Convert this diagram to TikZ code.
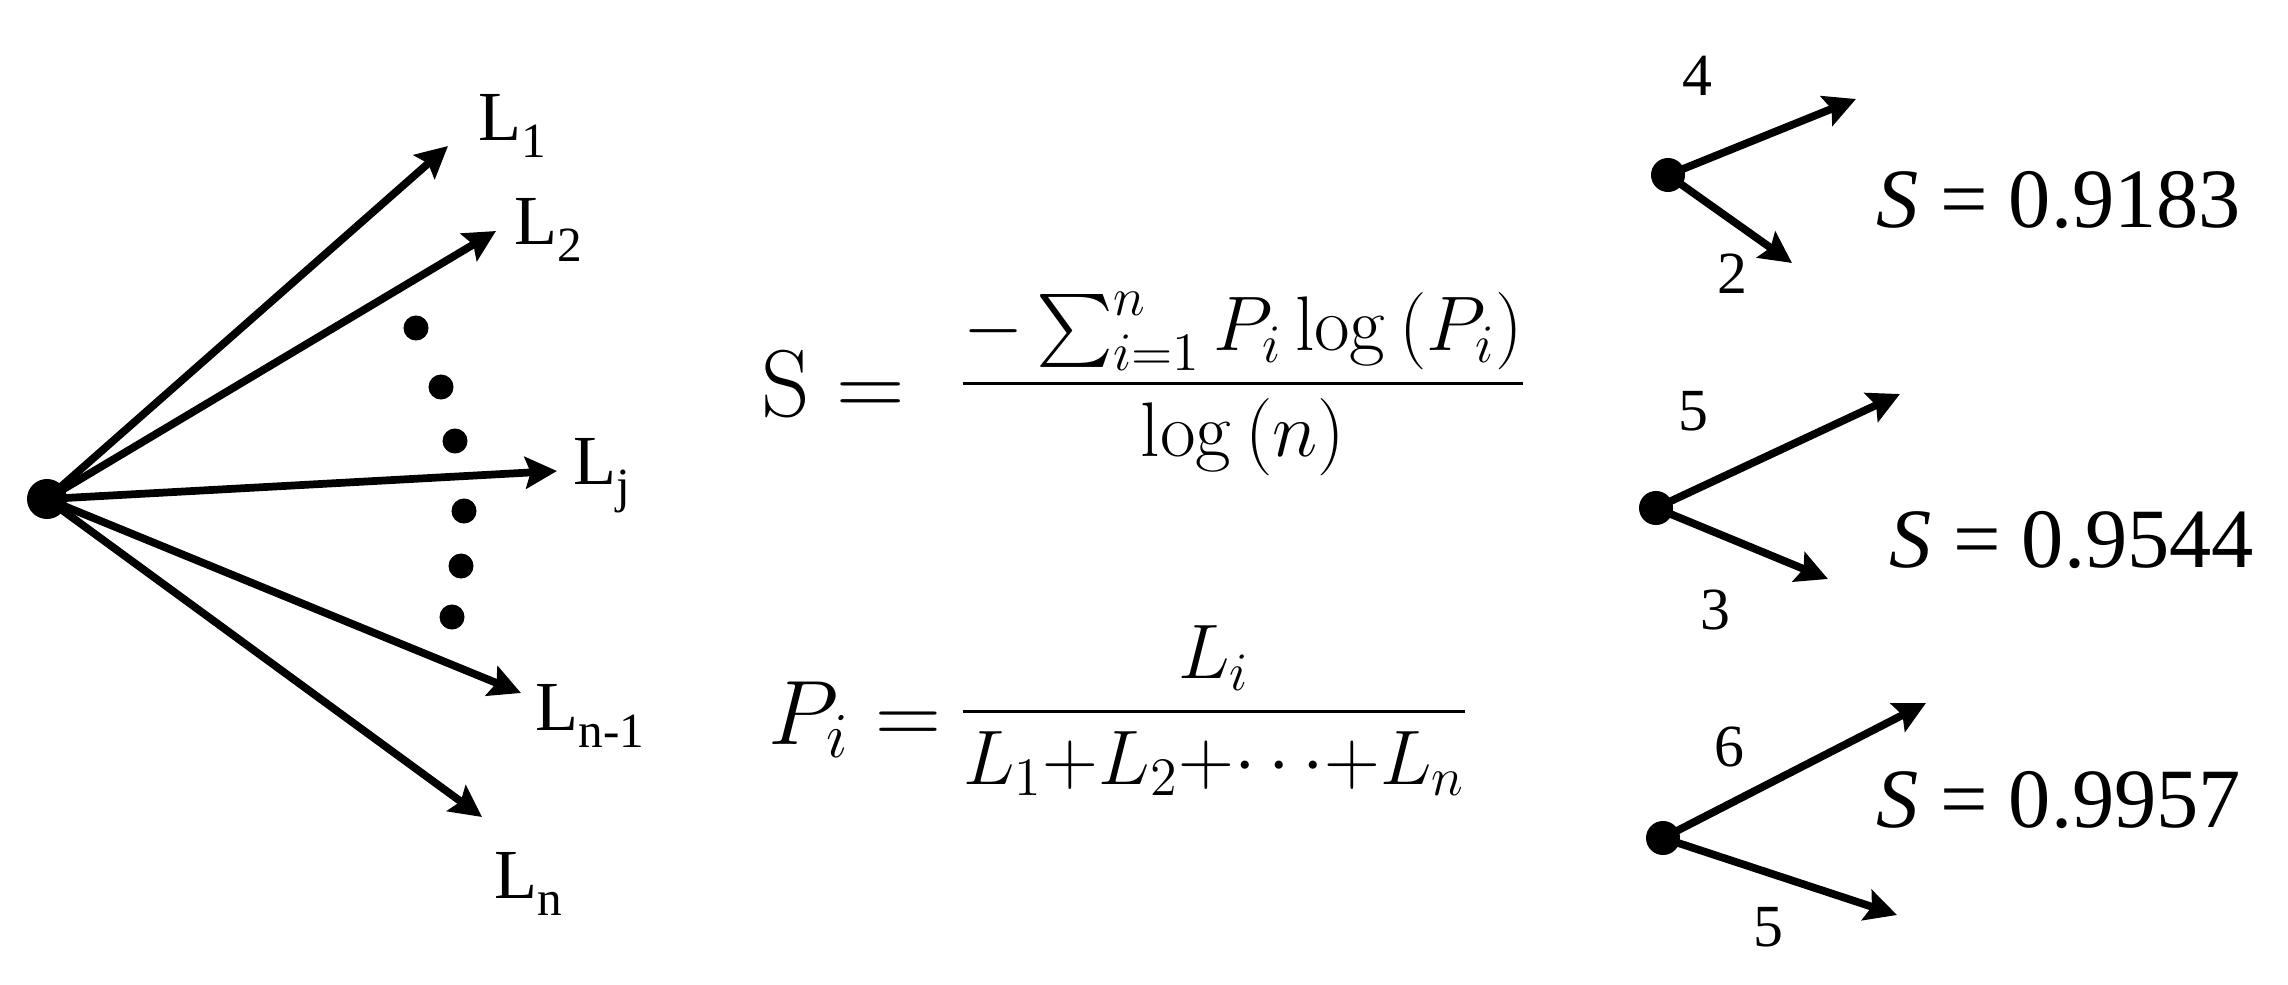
\RequirePackage{fix-cm}
\documentclass[tikz,border=0pt]{standalone}
\usepackage{amsmath}
\usepackage[no-math]{fontspec}
\setmainfont{Liberation Serif}
\usetikzlibrary{arrows.meta,positioning}

\newcommand{\lsub}[1]{\raisebox{-0.25em}{\fontsize{14}{16}\selectfont #1}}

\tikzset{
  branch/.style={line width=2.2pt,-{Stealth[length=9pt,width=9pt,inset=1.5pt]}},
  hub/.style={circle,fill=black,inner sep=0pt,minimum size=#1},
  llabel/.style={font=\fontsize{20}{23}\selectfont,inner sep=0pt},
  wlabel/.style={font=\fontsize{17}{20}\selectfont,inner sep=0pt},
  sval/.style={font=\fontsize{24}{28}\selectfont,inner sep=0pt},
  formula/.style={font=\fontsize{#1}{30}\selectfont,inner sep=0pt,anchor=base}
}

\begin{document}
\begin{tikzpicture}[x=0.01cm,y=-0.01cm]
  \useasboundingbox (0,0) rectangle (2288,985);

  % fan of links
  \node [hub=0.4cm] (h) at (47,499) {};
  \coordinate (t1) at (448,146);
  \coordinate (t2) at (496,231);
  \coordinate (tj) at (557,471);
  \coordinate (tn1) at (521,693);
  \coordinate (tn) at (482,817);
  \draw [branch] (h.center) -- (t1);
  \draw [branch] (h.center) -- (t2);
  \draw [branch] (h.center) -- (tj);
  \draw [branch] (h.center) -- (tn1);
  \draw [branch] (h.center) -- (tn);
  \node [llabel] (l1) at (512,126) {L\lsub{1}};
  \node [llabel] (l2) at (548,230) {L\lsub{2}};
  \node [llabel] (lj) at (602,476) {L\lsub{j}};
  \node [llabel] (ln1) at (590,716) {L\lsub{n-1}};
  \node [llabel] (ln) at (528,884) {L\lsub{n}};

  % dots
  \foreach \x/\y [count=\i] in {416/328,441/387,455/441,464/511,461/566,452/617}
    \node [hub=0.25cm] (d\i) at (\x,\y) {};

  % formulas
  \node [formula=27] (fsl) at (833,416) {$\mathrm{S} =$};
  \node [formula=22] (fsf) at (1243,403)
    {$\dfrac{-\sum_{i=1}^{n} P_i\log\left(P_i\right)}{\log\left(n\right)}$};
  \node [formula=26] (fpl) at (855,744) {$P_i =$};
  \node [formula=22] (fpf) at (1214,731)
    {$\dfrac{L_i}{L_1{+}L_2{+}{\cdots}{+}L_n}$};

  % examples
  \node [hub=0.34cm] (r1) at (1668,175) {};
  \coordinate (a1) at (1856,99);
  \coordinate (b1) at (1792,263);
  \draw [branch] (r1.center) -- (a1);
  \draw [branch] (r1.center) -- (b1);
  \node [wlabel] (w1) at (1697,76) {4};
  \node [wlabel] (v1) at (1732,274) {2};
  \node [sval] (s1) at (2059,200) {\textit{S} = 0.9183};

  \node [hub=0.34cm] (r2) at (1656,508) {};
  \coordinate (a2) at (1900,394);
  \coordinate (b2) at (1828,579);
  \draw [branch] (r2.center) -- (a2);
  \draw [branch] (r2.center) -- (b2);
  \node [wlabel] (w2) at (1693,411) {5};
  \node [wlabel] (v2) at (1715,610) {3};
  \node [sval] (s2) at (2072,540) {\textit{S} = 0.9544};

  \node [hub=0.34cm] (r3) at (1663,838) {};
  \coordinate (a3) at (1926,703);
  \coordinate (b3) at (1897,915);
  \draw [branch] (r3.center) -- (a3);
  \draw [branch] (r3.center) -- (b3);
  \node [wlabel] (w3) at (1729,747) {6};
  \node [wlabel] (v3) at (1768,927) {5};
  \node [sval] (s3) at (2059,800) {\textit{S} = 0.9957};
\end{tikzpicture}
\end{document}
